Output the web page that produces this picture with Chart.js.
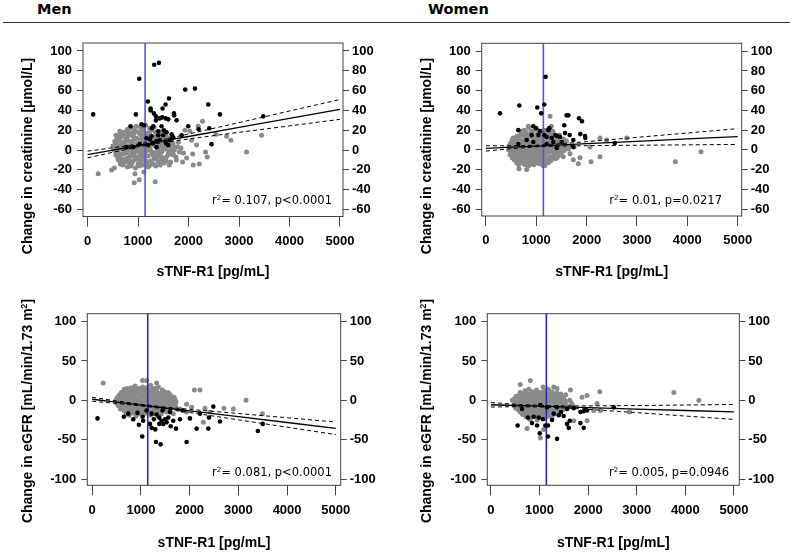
<!DOCTYPE html>
<html>
<head>
<meta charset="utf-8">
<script src="https://cdn.jsdelivr.net/npm/chart.js@4"></script>
<style>
  body { margin: 0; background: #fff; }
  #page { position: relative; width: 795px; height: 556px; overflow: hidden; }
  canvas { position: absolute; }
  .head { position: absolute; top: 1px; line-height: 17px; font: bold 14.5px "DejaVu Sans", Verdana, sans-serif; color: #000; }
  .rule { position: absolute; left: 3px; top: 22px; width: 787px; border-top: 1.5px solid #333; }
  .ytitle { position: absolute; white-space: nowrap; font: bold 14px "Liberation Sans", Arial, sans-serif; color: #000;
            transform: translate(-50%, -50%) rotate(-90deg); }
  .stat { position: absolute; white-space: nowrap; font: 11.5px "DejaVu Sans", Verdana, sans-serif; color: #000;
          transform: translateY(-50%); }
  sup { font-size: 0.62em; vertical-align: 0.6em; line-height: 0; }
</style>
</head>
<body>
<div id="page">
  <div class="head" style="left:37px">Men</div>
  <div class="head" style="left:428px">Women</div>
  <div class="rule"></div>

  <canvas id="menCreat" width="397" height="282" style="left:0;top:0"></canvas>
  <canvas id="womenCreat" width="398" height="282" style="left:397px;top:0"></canvas>
  <canvas id="menEgfr" width="397" height="278" style="left:0;top:278px"></canvas>
  <canvas id="womenEgfr" width="398" height="278" style="left:397px;top:278px"></canvas>

  <div class="ytitle" style="left:27px;top:156px">Change in creatinine [µmol/L]</div>
  <div class="ytitle" style="left:426px;top:156px">Change in creatinine [µmol/L]</div>
  <div class="ytitle" style="left:27px;top:411px">Change in eGFR [mL/min/1.73 m<sup>2</sup>]</div>
  <div class="ytitle" style="left:426px;top:411px">Change in eGFR [mL/min/1.73 m<sup>2</sup>]</div>

  <div class="stat" style="right:463px;top:200px">r<sup>2</sup>= 0.107, p&lt;0.0001</div>
  <div class="stat" style="right:73px;top:200px">r<sup>2</sup>= 0.01, p=0.0217</div>
  <div class="stat" style="right:463px;top:472px">r<sup>2</sup>= 0.081, p&lt;0.0001</div>
  <div class="stat" style="right:66px;top:472px">r<sup>2</sup>= 0.005, p=0.0946</div>
</div>

<script>
// axis ticks
const xTicks = [0, 1000, 2000, 3000, 4000, 5000];
const creatTicks = [-60, -40, -20, 0, 20, 40, 60, 80, 100];
const egfrTicks = [-100, -50, 0, 50, 100];
const cutoff = [1140];

// regression line + 95% band, read at these x values
const fitX = [0, 500, 1000, 1500, 2000, 3000, 4000, 5000];
const menCreatFit   = [-4.5, 0, 4.6, 9.2, 13.7, 22.8, 31.9, 41];
const menCreatUpper = [-1.1, 2.3, 6.0, 10.7, 16.2, 27.7, 39.4, 51];
const menCreatLower = [-7.9, -2.2, 3.2, 7.7, 11.2, 17.9, 24.4, 31];
const womenCreatFit   = [1.5, 2.7, 3.9, 5.1, 6.3, 8.7, 11.1, 13.5];
const womenCreatUpper = [4.2, 4.2, 4.7, 6.3, 8.3, 12.7, 17.1, 21.5];
const womenCreatLower = [-1.2, 1.2, 3.1, 3.9, 4.3, 4.7, 5.1, 5.5];
const menEgfrFit   = [1.3, -2.4, -6.1, -9.8, -13.5, -20.8, -28.2, -35.6];
const menEgfrUpper = [3.8, -0.8, -5.1, -8.6, -11.5, -16.8, -22.2, -27.6];
const menEgfrLower = [-1.2, -4.0, -7.1, -11.0, -15.5, -24.8, -34.2, -43.6];
const womenEgfrFit   = [-5.7, -6.6, -7.5, -8.4, -9.3, -11.2, -13.0, -14.8];
const womenEgfrUpper = [-2.9, -5.0, -6.5, -7.1, -7.1, -6.7, -6.0, -5.3];
const womenEgfrLower = [-8.5, -8.2, -8.5, -9.7, -11.5, -15.7, -20.0, -24.3];

// individual points [sTNF-R1, change] : gray = other, black = highlighted
const menCreatGray = [
  [880,22],[960,24],[1040,23],[1150,25],[1230,22],[1320,23],[1090,21],[790,21],
  [720,18],[800,19],[870,17],[940,20],[1010,18],[1100,19],[1180,17],[1270,20],[1350,18],[1430,17],[650,17],[1520,19],
  [600,13],[680,15],[760,12],[830,16],[900,14],[970,12],[1040,16],[1120,13],[1200,15],[1280,12],[1360,16],[1440,13],[1520,15],[1600,12],[560,15],[1150,14],
  [540,9],[620,10],[700,8],[770,11],[840,9],[910,10],[990,7],[1060,11],[1130,8],[1210,10],[1290,9],[1370,11],[1450,8],[1530,10],[1610,9],[1690,7],[870,8],[1180,11],
  [500,4],[580,5],[650,3],[720,6],[790,2],[860,5],[930,3],[1000,6],[1070,2],[1140,5],[1220,3],[1300,6],[1380,2],[1460,5],[1540,3],[1620,6],[1700,4],[1780,3],[830,4],[1250,5],
  [520,0],[600,-2],[670,1],[740,-1],[810,0],[880,-3],[950,1],[1020,-2],[1090,0],[1160,-1],[1240,1],[1310,-3],[1390,0],[1470,-2],[1550,1],[1630,-1],[1720,0],[1820,-2],[980,-1],[1200,0],
  [560,-5],[640,-7],[710,-4],[780,-8],[850,-6],[920,-4],[990,-7],[1060,-5],[1130,-8],[1200,-6],[1280,-4],[1350,-7],[1420,-5],[1500,-8],[1580,-6],[1660,-4],[1750,-7],[900,-6],
  [610,-10],[690,-12],[760,-9],[830,-13],[900,-11],[970,-9],[1040,-12],[1110,-10],[1180,-13],[1250,-11],[1320,-9],[1400,-12],[1480,-10],[1560,-11],[1050,-10],
  [700,-15],[790,-17],[870,-14],[950,-18],[1030,-16],[1110,-15],[1190,-17],[1270,-14],[1350,-16],[1620,-15],[530,-18],
  [640,19],[760,16],[920,17],[1070,16],[1230,18],[1400,15],[1480,19],
  [580,11],[660,13],[800,14],[940,12],[1080,14],[1250,14],[1320,13],[1480,12],[1560,14],
  [560,7],[670,6],[750,8],[890,7],[1030,8],[1170,7],[1330,7],[1410,6],[1570,7],[1650,9],
  [540,2],[620,3],[700,1],[760,4],[900,1],[1040,3],[1110,4],[1180,2],[1340,4],[1420,3],[1500,1],[1580,4],[1660,2],
  [560,-2],[640,-4],[780,-3],[920,-2],[1060,-3],[1130,-4],[1270,-2],[1350,-3],[1430,-2],[1600,-3],[1690,-3],
  [600,-8],[680,-9],[820,-10],[960,-9],[1090,-8],[1160,-11],[1310,-6],[1380,-9],[1460,-7],[1540,-9],[1700,-5],
  [650,-14],[740,-12],[860,-16],[1000,-14],[1150,-12],[1300,-14],[1440,-15],[1520,-13],[1220,-16],
  [211,-24],[476,-20],[925,-33],[1024,-30],[1116,-22],[938,-24],[1341,-32],[1499,-12],[1645,-12],[1882,-12],[1962,-8],[2094,-15],
  [2213,-14],[2081,-4],[2160,5],[2279,29],[2193,24],[2028,19],[1929,20],[2061,10],[2338,-2],[2371,-7],[2543,16],[2754,14],
  [2840,10],[3150,-2],[3448,15],[1800,8],[1850,2],[1760,-10],[1900,-3]
];
const menCreatBlack = [
  [112,36],[1024,72],[1321,86],[1414,88],[958,36],[1195,49],[1248,42],[1250,40],[1546,46],[1612,52],[1486,42],[1314,37],
  [1354,34],[1433,32],[1480,33],[1546,32],[1711,37],[1715,35],[1764,30],[1598,31],[1354,30],[1466,24],[1513,20],[1301,24],
  [1400,19],[1935,61],[2127,62],[2391,46],[2622,36],[3481,34],[1995,24],[2200,21],[2411,22],[2457,6],[1863,15],[1697,13],
  [1631,10],[1552,7],[1598,5],[852,24],[1070,26],[1116,25],[1275,22],[1268,14],[1169,12],[1367,9],[1301,7],[1433,10],
  [1202,5],[905,3],[1499,15],[1565,18],[1664,16],[1400,15],[1664,12],[1235,11],[1037,6],[773,3],[1367,3]
];

const womenCreatGray = [
  [760,20],[850,22],[930,19],[1010,21],[1100,18],[1200,20],[1330,19],
  [620,14],[700,16],[780,13],[860,15],[940,14],[1020,16],[1100,13],[1180,15],[1260,14],[1360,13],[1460,15],[580,12],[1000,12],[1140,17],
  [520,10],[590,8],[660,11],[730,9],[800,10],[870,8],[950,11],[1020,9],[1090,10],[1170,8],[1240,11],[1320,9],[1400,10],[1500,8],[1600,9],
  [460,4],[530,6],[600,3],[670,5],[740,4],[810,6],[880,3],[950,5],[1020,4],[1090,6],[1160,3],[1230,5],[1310,4],[1390,6],[1470,3],[1560,5],[1650,4],[1750,3],[900,5],
  [450,0],[520,-1],[590,1],[660,-2],[730,0],[800,1],[870,-1],[940,0],[1010,-2],[1080,1],[1150,0],[1220,-1],[1300,1],[1380,-2],[1460,0],[1550,-1],[1640,1],[700,-1],
  [480,-5],[550,-6],[620,-4],[690,-7],[760,-5],[830,-6],[900,-4],[970,-7],[1040,-5],[1110,-6],[1190,-4],[1270,-7],[1350,-5],[1440,-6],[800,-8],
  [560,-10],[640,-11],[720,-9],[800,-12],[880,-10],[960,-11],[1040,-9],[1120,-12],[1200,-10],[1290,-11],[1380,-9],[1000,-13],
  [650,-15],[750,-14],[850,-16],[950,-15],[1060,-14],[1170,-16],[900,-14],
  [700,19],[800,17],[900,18],[1060,19],[1150,20],[1270,17],
  [540,12],[650,12],[740,14],[830,12],[910,13],[1060,14],[1140,12],[1220,13],[1300,15],[1420,12],[1540,11],
  [490,7],[560,8],[630,6],[700,7],[770,8],[840,9],[920,7],[990,8],[1060,7],[1130,9],[1200,7],[1280,8],[1350,7],[1440,8],[1540,6],
  [490,2],[560,3],[630,1],[700,2],[770,3],[840,1],[910,2],[980,2],[1050,2],[1120,2],[1190,1],[1260,2],[1340,3],[1420,1],[1510,2],[1600,2],
  [500,-3],[570,-2],[640,-3],[720,-3],[790,-2],[850,-3],[920,-2],[990,-4],[1060,-3],[1130,-2],[1200,-3],[1280,-2],[1350,-3],[1420,-3],[1500,-3],
  [520,-8],[600,-8],[680,-10],[740,-7],[870,-8],[940,-9],[1010,-8],[1080,-9],[1160,-8],[1230,-9],[1320,-8],[1410,-8],
  [610,-13],[700,-12],[780,-15],[850,-13],[930,-12],[1080,-11],[1150,-13],[1240,-13],
  [2265,-7],[2086,-12],[1868,-8],[1835,-14],[3762,-12],[4272,-2],[808,-20],[656,-19],[1139,-16],[841,24],[1272,34],[1298,24],
  [2265,12],[2397,10],[2795,12],[2066,3],[1536,-7],[1669,-4],[1735,-10]
];
const womenCreatBlack = [
  [278,37],[662,45],[1020,43],[1159,46],[1185,74],[1099,37],[642,20],[940,24],[993,22],[1073,19],[1238,20],[1258,22],
  [1040,15],[1159,15],[1378,15],[1417,14],[1470,13],[1556,25],[1602,35],[1636,35],[1570,17],[1662,15],[1848,32],[1907,29],
  [1874,16],[1967,14],[1974,12],[1205,13],[1305,12],[907,15],[808,10],[642,6],[1338,8],[1503,8],[1735,10],[1404,2],
  [940,8],[1205,6],[1735,3],[2560,7]
];

const menEgfrGray = [
  [800,16],[880,18],[960,15],[1040,17],[1120,16],[1200,19],[1280,15],[1360,17],[720,15],
  [600,10],[680,12],[760,9],[840,11],[920,10],[1000,12],[1080,9],[1160,11],[1240,10],[1320,12],[1400,9],[1480,11],[1560,10],
  [520,4],[590,6],[660,3],[730,5],[800,4],[870,6],[940,3],[1010,5],[1080,4],[1150,6],[1220,3],[1290,5],[1360,4],[1440,6],[1520,3],[1600,5],[1680,4],
  [480,-1],[550,0],[620,-2],[690,-1],[760,0],[830,-3],[900,-1],[970,0],[1040,-2],[1110,-1],[1180,0],[1250,-3],[1320,-1],[1400,0],[1480,-2],[1560,-1],[1640,0],[1720,-2],
  [540,-7],[610,-8],[680,-6],[750,-9],[820,-7],[890,-8],[960,-6],[1030,-9],[1100,-7],[1170,-8],[1240,-6],[1310,-9],[1390,-7],[1470,-8],[1550,-6],[1630,-9],[1710,-7],
  [650,-13],[730,-14],[810,-12],[890,-15],[970,-13],[1050,-14],[1130,-12],[1210,-15],[1290,-13],[1370,-14],[1450,-12],[1530,-15],
  [760,-19],[900,-20],[1050,-18],[1200,-19],[1350,-20],
  [760,13],[840,14],[920,13],[1000,15],[1080,14],[1160,13],[1240,14],[1320,15],[1440,13],[660,14],
  [560,7],[630,8],[700,9],[780,7],[860,8],[980,8],[1120,7],[1200,8],[1270,7],[1350,8],[1430,7],[1510,8],[1600,7],
  [500,2],[580,2],[650,1],[720,2],[860,1],[1000,2],[1060,1],[1200,2],[1270,1],[1420,2],[1500,1],[1580,2],[1700,1],
  [510,-4],[580,-4],[650,-5],[720,-4],[800,-5],[860,-4],[930,-4],[1000,-5],[1070,-4],[1140,-4],[1210,-5],[1280,-5],[1350,-4],[1430,-4],[1510,-5],[1600,-4],[1680,-4],
  [580,-11],[640,-10],[720,-11],[790,-10],[860,-11],[930,-10],[1000,-11],[1070,-10],[1150,-10],[1260,-10],[1340,-11],[1420,-10],[1500,-11],[1590,-12],
  [700,-17],[820,-16],[960,-17],[1100,-16],[1260,-17],[1420,-17],
  [226,22],[2212,13],[2096,13],[3157,0],[2705,-10],[2897,-11],[2281,-28],[3493,-17],[1800,-11],[1938,-15],[2041,-9],[1664,-17],
  [1034,25],[1117,25],[1322,22],[1938,-5],[2315,-10],[2418,-15],[1733,-11]
];
const menEgfrBlack = [
  [110,-23],[1027,-46],[1308,-53],[1404,-56],[1938,-53],[931,-16],[842,-24],[959,-31],[1048,-26],[1185,-30],[1219,-35],[1267,-24],
  [1322,-18],[1377,-22],[1425,-26],[1459,-30],[1493,-24],[1527,-28],[1562,-22],[1610,-33],[1664,-26],[1719,-36],[1295,-37],[1377,-30],
  [1801,-24],[2007,-23],[2144,-36],[2384,-36],[2397,-22],[2486,-8],[2623,-27],[3400,-39],[3500,-30],[740,-17],[1117,-13],[1445,-13],
  [1219,-17],[1596,-15],[1856,-13],[2212,-17],[651,-21],[1034,-21]
];

const womenEgfrGray = [
  [700,12],[780,14],[860,11],[940,13],[1020,10],[1100,12],[1180,14],[1260,11],[600,10],
  [520,5],[590,7],[660,4],[730,6],[800,5],[870,7],[940,4],[1010,6],[1080,5],[1150,7],[1220,4],[1300,6],[1380,5],[1460,4],
  [440,0],[510,-1],[580,1],[650,-2],[720,0],[790,1],[860,-1],[930,0],[1000,-2],[1070,1],[1140,0],[1210,-1],[1290,1],[1370,-2],[1450,0],[1530,-1],[1620,0],
  [470,-6],[540,-7],[610,-5],[680,-8],[750,-6],[820,-7],[890,-5],[960,-8],[1030,-6],[1100,-7],[1170,-5],[1240,-8],[1320,-6],[1400,-7],[1490,-5],[1580,-8],[1680,-6],
  [560,-12],[640,-13],[720,-11],[800,-14],[880,-12],[960,-13],[1040,-11],[1120,-14],[1200,-12],[1290,-13],[1380,-11],[1480,-12],
  [650,-18],[760,-19],[870,-17],[980,-20],[1090,-18],[1200,-19],[1320,-17],
  [800,-24],[950,-25],[1100,-23],
  [640,8],[720,9],[800,8],[880,9],[960,8],[1040,9],[1120,8],[1200,9],[1280,8],[1360,9],[1440,8],[1540,7],
  [480,2],[550,3],[620,2],[690,3],[760,2],[830,3],[900,2],[970,3],[1040,2],[1110,3],[1180,2],[1250,3],[1330,2],[1410,2],[1500,2],
  [500,-3],[570,-4],[640,-3],[710,-4],[780,-3],[850,-4],[920,-3],[990,-4],[1060,-3],[1130,-4],[1200,-3],[1280,-4],[1350,-3],[1440,-4],[1530,-3],[1650,-3],
  [510,-10],[580,-9],[650,-10],[720,-9],[790,-10],[860,-9],[930,-10],[1000,-9],[1070,-10],[1140,-9],[1210,-10],[1290,-9],[1370,-10],[1450,-9],[1560,-10],
  [600,-15],[690,-16],[770,-15],[850,-16],[930,-15],[1010,-16],[1090,-15],[1170,-16],[1250,-15],[1340,-16],[1430,-15],
  [720,-21],[820,-22],[930,-21],[1040,-22],[1150,-21],[1260,-22],
  [3764,10],[4279,0],[2239,11],[2184,-4],[2253,-13],[2850,-15],[1978,6],[1875,4],[1016,-48],[742,-36],[1085,-37],[604,20],
  [810,25],[1071,17],[1291,17],[1360,15],[1635,13],[1703,-26],[1978,-26],[2115,-13]
];
const womenEgfrBlack = [
  [549,-32],[1003,-42],[1174,-46],[1360,-49],[948,-32],[1119,-32],[1174,-32],[845,-29],[762,-22],[879,-21],[982,-22],
  [1071,-24],[1257,-25],[1291,-17],[1394,-19],[1442,-15],[1497,-20],[1566,-30],[1621,-26],[1600,-35],[1841,-29],[1909,-35],
  [1841,-15],[1909,-14],[1978,-13],[1944,-11],[2527,-9],[1016,-6],[1154,-9],[1360,-9],[1566,-11],[1703,-10],[639,-11]
];

const tickFont = { family: "'Liberation Sans', Arial, sans-serif", size: 13, weight: 'bold' };
const titleFont = { family: "'Liberation Sans', Arial, sans-serif", size: 14, weight: 'bold' };

// box around the plot region, drawn over the points like R does
const frame = {
  id: 'frame',
  afterDatasetsDraw(chart) {
    const { ctx, chartArea: a } = chart;
    ctx.save();
    ctx.strokeStyle = '#444';
    ctx.lineWidth = 1;
    ctx.strokeRect(a.left, a.top, a.right - a.left, a.bottom - a.top);
    ctx.restore();
  }
};

function toXY(pairs) {
  return pairs.map(p => ({ x: p[0], y: p[1] }));
}
function alongFit(ys) {
  return fitX.map((x, i) => ({ x: x, y: ys[i] }));
}

function yAxis(p, pos, width, pad) {
  return {
    type: 'linear', position: pos, min: p.yMin, max: p.yMax,
    afterBuildTicks: s => { s.ticks = p.yTicks.map(v => ({ value: v })); },
    afterFit: s => { s.width = width; },
    grid: { drawOnChartArea: false, tickLength: 6, tickColor: '#444' },
    border: { display: false },
    ticks: { font: tickFont, color: '#000', padding: pad, callback: v => String(v) }
  };
}

function makePanel(p) {
  const line = (ys, dash, w) => ({
    type: 'line', data: alongFit(ys), borderColor: '#000', borderWidth: w,
    borderDash: dash, pointRadius: 0, fill: false, order: dash.length ? 2 : 1
  });
  new Chart(document.getElementById(p.id), {
    type: 'scatter',
    data: {
      datasets: [
        { data: toXY(p.gray), backgroundColor: '#8a8a8a', borderWidth: 0, pointRadius: 2.5, order: 5 },
        { type: 'line', data: [{ x: cutoff[0], y: p.yMin }, { x: cutoff[0], y: p.yMax }],
          borderColor: p.blue, borderWidth: 1.6, pointRadius: 0, order: 4 },
        { data: toXY(p.black), backgroundColor: '#000', borderWidth: 0, pointRadius: 2.3, order: 3 },
        line(p.upper, [4, 3], 1),
        line(p.lower, [4, 3], 1),
        line(p.fit, [], 1.3)
      ]
    },
    options: {
      responsive: false,
      animation: false,
      layout: { padding: { top: p.padTop, left: 0, right: 0, bottom: 0 } },
      plugins: { legend: { display: false }, tooltip: { enabled: false } },
      scales: {
        x: {
          type: 'linear', min: p.xMin, max: p.xMax,
          afterBuildTicks: s => { s.ticks = xTicks.map(v => ({ value: v })); },
          afterFit: s => { s.height = p.xH; },
          grid: { drawOnChartArea: false, tickLength: 10, tickColor: '#444' },
          border: { display: false },
          ticks: { font: tickFont, color: '#000', padding: 7, maxRotation: 0, autoSkip: false,
                   callback: v => String(v) },
          title: { display: true, text: 'sTNF-R1 [pg/mL]', font: titleFont, color: '#000',
                   padding: { top: 0, bottom: p.titlePad } }
        },
        y: yAxis(p, 'left', p.yW, 5),
        y2: yAxis(p, 'right', p.y2W, 3)
      }
    },
    plugins: [frame]
  });
}

makePanel({ id: 'menCreat', padTop: 43, yW: 83, y2W: 54, xH: 65.5, titlePad: 1,
  xMin: -90, xMax: 5060, yMin: -67, yMax: 108, yTicks: creatTicks, blue: '#5656ee',
  gray: menCreatGray, black: menCreatBlack, fit: menCreatFit, upper: menCreatUpper, lower: menCreatLower });
makePanel({ id: 'womenCreat', padTop: 43.3, yW: 84.7, y2W: 53.3, xH: 66, titlePad: 1,
  xMin: -85, xMax: 5080, yMin: -67, yMax: 108, yTicks: creatTicks, blue: '#5656ee',
  gray: womenCreatGray, black: womenCreatBlack, fit: womenCreatFit, upper: womenCreatUpper, lower: womenCreatLower });
makePanel({ id: 'menEgfr', padTop: 35.7, yW: 87.3, y2W: 56.3, xH: 70.7, titlePad: 4.6,
  xMin: -100, xMax: 5100, yMin: -108, yMax: 110, yTicks: egfrTicks, blue: '#2a2ab8',
  gray: menEgfrGray, black: menEgfrBlack, fit: menEgfrFit, upper: menEgfrUpper, lower: menEgfrLower });
makePanel({ id: 'womenEgfr', padTop: 35.7, yW: 90.3, y2W: 55.7, xH: 70.7, titlePad: 4.6,
  xMin: -75, xMax: 5110, yMin: -108, yMax: 110, yTicks: egfrTicks, blue: '#2a2ab8',
  gray: womenEgfrGray, black: womenEgfrBlack, fit: womenEgfrFit, upper: womenEgfrUpper, lower: womenEgfrLower });
</script>
</body>
</html>
